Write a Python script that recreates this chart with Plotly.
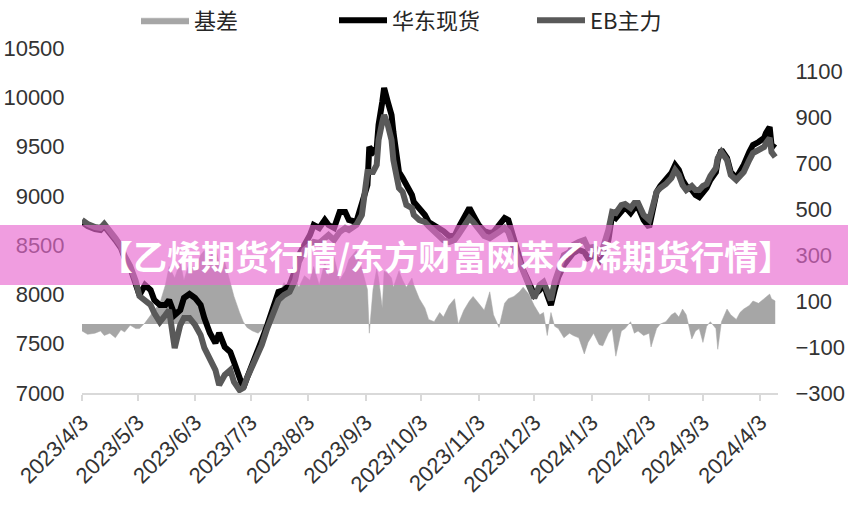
import plotly.graph_objects as go

dates = [
    "2023-04-03", "2023-04-06", "2023-04-10", "2023-04-13", "2023-04-15", "2023-04-18", "2023-04-21", "2023-04-24", "2023-04-26", "2023-04-29",
    "2023-05-02", "2023-05-04", "2023-05-07", "2023-05-10", "2023-05-12", "2023-05-15", "2023-05-18", "2023-05-20", "2023-05-23", "2023-05-26",
    "2023-05-28", "2023-05-31", "2023-06-03", "2023-06-06", "2023-06-08", "2023-06-11", "2023-06-14", "2023-06-16", "2023-06-19", "2023-06-22",
    "2023-06-24", "2023-06-27", "2023-06-29", "2023-07-01", "2023-07-04", "2023-07-07", "2023-07-09", "2023-07-12", "2023-07-15", "2023-07-18",
    "2023-07-21", "2023-07-24", "2023-07-27", "2023-07-29", "2023-08-01", "2023-08-04", "2023-08-06", "2023-08-09", "2023-08-12", "2023-08-14",
    "2023-08-17", "2023-08-20", "2023-08-23", "2023-08-25", "2023-08-29", "2023-09-01", "2023-09-04", "2023-09-05", "2023-09-07", "2023-09-09",
    "2023-09-10", "2023-09-12", "2023-09-13", "2023-09-15", "2023-09-17", "2023-09-18", "2023-09-21", "2023-09-23", "2023-09-25", "2023-09-28",
    "2023-09-29", "2023-10-02", "2023-10-05", "2023-10-07", "2023-10-10", "2023-10-13", "2023-10-15", "2023-10-18", "2023-10-21", "2023-10-23",
    "2023-10-26", "2023-10-29", "2023-10-31", "2023-11-03", "2023-11-06", "2023-11-09", "2023-11-11", "2023-11-14", "2023-11-17", "2023-11-19",
    "2023-11-22", "2023-11-25", "2023-11-27", "2023-11-30", "2023-12-03", "2023-12-06", "2023-12-08", "2023-12-10", "2023-12-12", "2023-12-14",
    "2023-12-16", "2023-12-19", "2023-12-22", "2023-12-24", "2023-12-27", "2023-12-30", "2024-01-01", "2024-01-04", "2024-01-07", "2024-01-09",
    "2024-01-12", "2024-01-14", "2024-01-16", "2024-01-19", "2024-01-21", "2024-01-24", "2024-01-26", "2024-01-28", "2024-01-31", "2024-02-03",
    "2024-02-04", "2024-02-07", "2024-02-09", "2024-02-12", "2024-02-15", "2024-02-17", "2024-02-19", "2024-02-21", "2024-02-23", "2024-02-26",
    "2024-02-28", "2024-03-01", "2024-03-03", "2024-03-05", "2024-03-07", "2024-03-10", "2024-03-11", "2024-03-13", "2024-03-16", "2024-03-18",
    "2024-03-21", "2024-03-23", "2024-03-25", "2024-03-28", "2024-03-30", "2024-04-02", "2024-04-05", "2024-04-06", "2024-04-08", "2024-04-09",
    "2024-04-11",
]

spot_east_china = [
    8735, 8694, 8664, 8654, 8694, 8633, 8552, 8471, 8370, 8268,
    8126, 7994, 8096, 8045, 7943, 7893, 7893, 7943, 7791, 7842,
    7964, 8004, 7964, 7893, 7761, 7609, 7507, 7609, 7467, 7416,
    7314, 7152, 7051, 7152, 7284, 7416, 7538, 7690, 7842, 8025,
    8045, 8096, 8248, 8400, 8501, 8603, 8704, 8674, 8755, 8704,
    8674, 8836, 8836, 8755, 8735, 8907, 9110, 9496, 9445, 9486,
    9719, 9952, 10094, 9952, 9820, 9648, 9242, 9181, 9110, 9009,
    8938, 8877, 8806, 8735, 8704, 8674, 8643, 8593, 8593, 8674,
    8775, 8877, 8806, 8704, 8643, 8623, 8633, 8694, 8775, 8755,
    8572, 8400, 8248, 8126, 7994, 8045, 8116, 7994, 7893, 8045,
    8177, 8299, 8370, 8420, 8451, 8430, 8370, 8400, 8329, 8370,
    8552, 8806, 8775, 8836, 8887, 8826, 8877, 8887, 8755, 8684,
    8775, 9039, 9100, 9161, 9232, 9313, 9262, 9161, 9100, 9059,
    9009, 8988, 9039, 9080, 9161, 9242, 9364, 9465, 9384, 9242,
    9181, 9242, 9313, 9445, 9516, 9546, 9587, 9638, 9699, 9516,
    9486,
]

eb_main = [
    8755, 8715, 8684, 8674, 8715, 8654, 8572, 8491, 8390, 8288,
    8136, 7984, 7943, 7893, 7812, 7720, 7791, 7842, 7457, 7690,
    7761, 7761, 7690, 7588, 7457, 7335, 7233, 7081, 7183, 7233,
    7112, 7030, 7051, 7152, 7284, 7416, 7487, 7659, 7791, 7943,
    7994, 8025, 8146, 8329, 8451, 8501, 8532, 8522, 8572, 8603,
    8552, 8633, 8674, 8654, 8704, 8806, 9242, 9242, 9242, 9313,
    9567, 9749, 9820, 9719, 9567, 9364, 9080, 9039, 8907, 8877,
    8806, 8755, 8735, 8694, 8633, 8593, 8552, 8532, 8552, 8603,
    8694, 8775, 8735, 8654, 8593, 8572, 8593, 8633, 8674, 8633,
    8471, 8329, 8197, 8096, 7964, 8096, 8126, 8045, 7943, 8126,
    8248, 8400, 8430, 8501, 8532, 8552, 8471, 8481, 8430, 8471,
    8654, 8836, 8826, 8907, 8917, 8877, 8928, 8928, 8806, 8755,
    8826, 9039, 9080, 9120, 9181, 9262, 9212, 9110, 9059, 9100,
    9059, 9059, 9100, 9120, 9201, 9283, 9384, 9445, 9364, 9212,
    9161, 9201, 9242, 9364, 9435, 9465, 9496, 9536, 9587, 9445,
    9394,
]

basis = [
    -30, -45, -40, -30, -50, -40, -60, -25, -35, -5,
    -20, -20, 5, 40, 60, 90, 170, 250, 200, 270,
    190, 270, 230, 300, 320, 290, 340, 260, 270, 180,
    120, 50, 10, -15, -30, -40, -25, -10, 40, 120,
    180, 140, 200, 160, 210, 190, 250, 170, 270, 210,
    290, 190, 230, 280, 320, 240, 150, -40, 150, 240,
    200, 70, 230, 220, 200, 160, 230, 190, 160, 200,
    170, 110, 70, 20, 10, 50, 30, 80, 110, 0,
    60, 100, 120, 90, 60, 140, 40, -15, 90, 110,
    120, 140, 160, 130, 80, 40, 50, -50, 50, -10,
    -20, -60, -40, -50, -60, -130, -80, -40, -90, -95,
    -40, -20, -140, -30, -20, 10, -40, -30, -50, -40,
    -100, -20, 0, 10, 40, 50, 30, 65, 40, -65,
    -30, -20, -80, -10, 10, -20, -110, 10, 65, 40,
    20, 50, 65, 80, 100, 90, 110, 120, 130, 110,
    100,
]

tick_dates = ["2023-04-03", "2023-05-03", "2023-06-03", "2023-07-03", "2023-08-03", "2023-09-03",
              "2023-10-03", "2023-11-03", "2023-12-03", "2024-01-03", "2024-02-03", "2024-03-03",
              "2024-04-03"]
tick_labels = ["2023/4/3", "2023/5/3", "2023/6/3", "2023/7/3", "2023/8/3", "2023/9/3",
               "2023/10/3", "2023/11/3", "2023/12/3", "2024/1/3", "2024/2/3", "2024/3/3",
               "2024/4/3"]
left_ticks = [7000, 7500, 8000, 8500, 9000, 9500, 10000, 10500]
left_labels = ["7000", "7500", "8000", "8500", "9000", "9500", "10000", "10500"]
right_ticks = [-300, -100, 100, 300, 500, 700, 900, 1100]
right_labels = ["−300", "−100", "100", "300", "500", "700", "900", "1100"]

banner_text = "【乙烯期货行情/东方财富网苯乙烯期货行情】"

FONT = "Liberation Sans, Arial, Noto Sans CJK SC, sans-serif"
TICK_COLOR = "#333333"

fig = go.Figure()
fig.add_trace(go.Scatter(
    x=dates, y=basis, name="基差", mode="lines", fill="tozeroy",
    fillcolor="#a6a6a6", line=dict(color="#a6a6a6", width=0.5), yaxis="y",
))
fig.add_trace(go.Scatter(
    x=dates, y=spot_east_china, name="华东现货", mode="lines",
    line=dict(color="#000000", width=6), yaxis="y2",
))
fig.add_trace(go.Scatter(
    x=dates, y=eb_main, name="EB主力", mode="lines",
    line=dict(color="#595959", width=6), yaxis="y2",
))

fig.update_layout(
    width=848, height=511,
    margin=dict(l=82, r=70, t=48, b=118, autoexpand=False),
    paper_bgcolor="white", plot_bgcolor="white",
    font=dict(family=FONT, size=20, color=TICK_COLOR),
    showlegend=True,
    legend=dict(orientation="h", x=(136 - 82) / 696, xanchor="left", y=1.08, yanchor="middle",
                font=dict(size=22, color="#262626", family="Noto Sans CJK SC, sans-serif"),
                bgcolor="rgba(0,0,0,0)", itemwidth=48,
                entrywidth=135, entrywidthmode="pixels"),
    xaxis=dict(
        type="date", range=["2023-04-03", "2024-04-12 12:00"], automargin=False,
        tickvals=tick_dates, ticktext=tick_labels, tickangle=-45,
        showgrid=False, zeroline=False,
        showline=True, linecolor="#d9d9d9", linewidth=2,
        ticks="outside", ticklen=6, tickcolor="#d9d9d9", tickwidth=2,
        tickfont=dict(size=22, color=TICK_COLOR),
    ),
    yaxis=dict(
        side="right", range=[-300, 1200], tickvals=right_ticks, ticktext=right_labels,
        automargin=False,
        showgrid=False, zeroline=False, showline=False,
        ticks="outside", ticklen=12, tickcolor="rgba(0,0,0,0)",
        tickfont=dict(size=22, color=TICK_COLOR),
    ),
    yaxis2=dict(
        overlaying="y", side="left", range=[7000, 10500], tickvals=left_ticks, ticktext=left_labels,
        automargin=False,
        showgrid=False, zeroline=False, showline=False,
        ticks="outside", ticklen=12, tickcolor="rgba(0,0,0,0)",
        tickfont=dict(size=22, color=TICK_COLOR),
    ),
)

fig.add_shape(type="rect", xref="paper", yref="paper",
              x0=-0.2, x1=1.2, y0=(393 - 285) / 345, y1=(393 - 225) / 345,
              fillcolor="rgba(232,105,208,0.65)", line=dict(width=0), layer="above")
fig.add_annotation(xref="paper", yref="paper", x=0.522, y=(393 - 256) / 345,
                   text="<b>" + banner_text + "</b>", showarrow=False,
                   font=dict(family="Noto Sans CJK SC, sans-serif", size=34, color="white"))

fig.write_html("out.html")
